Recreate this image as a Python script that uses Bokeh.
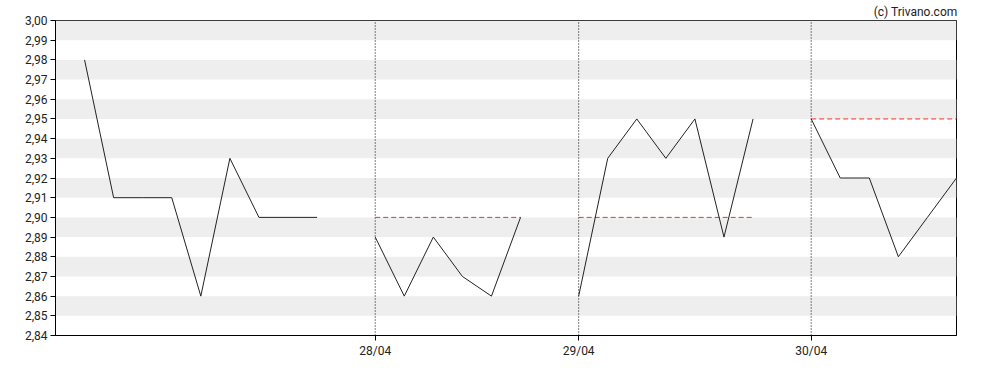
from bokeh.plotting import figure
from bokeh.models import Range1d, Title, FixedTicker
from bokeh.embed import file_html
from bokeh.resources import INLINE

# ---- data ----
session_labels = ["", "28/04", "29/04", "30/04"]
session_values = [
    [2.98, 2.91, 2.91, 2.91, 2.86, 2.93, 2.90, 2.90, 2.90],
    [2.89, 2.86, 2.89, 2.87, 2.86, 2.90],
    [2.86, 2.93, 2.95, 2.93, 2.95, 2.89, 2.95],
    [2.95, 2.92, 2.92, 2.88, 2.90, 2.92],
]
previous_close = [None, 2.90, 2.90, 2.95]
y_ticks = [2.84, 2.85, 2.86, 2.87, 2.88, 2.89, 2.90, 2.91, 2.92, 2.93, 2.94, 2.95,
           2.96, 2.97, 2.98, 2.99, 3.00]
y_tick_labels = ["2,84", "2,85", "2,86", "2,87", "2,88", "2,89", "2,90", "2,91", "2,92",
                 "2,93", "2,94", "2,95", "2,96", "2,97", "2,98", "2,99", "3,00"]
watermark = "(c) Trivano.com"

FONT = "Roboto"

# x positions: index based, one empty slot between sessions
session_x = []
pos = 0
for vals in session_values:
    session_x.append(list(range(pos, pos + len(vals))))
    pos += len(vals) + 1
x_min = -1
x_max = session_x[-1][-1]

p = figure(width=988, height=370, output_backend="svg", toolbar_location=None,
           x_range=Range1d(x_min, x_max), y_range=Range1d(y_ticks[0], y_ticks[-1]),
           min_border_left=55, min_border_right=32, min_border_top=20, min_border_bottom=35)
p.background_fill_color = "white"
p.border_fill_color = "white"
p.outline_line_color = "black"
p.outline_line_width = 1
p.xgrid.grid_line_color = None
p.ygrid.grid_line_color = None

# alternating bands (grey where band's lower tick is odd hundredth)
band_bottom = []
band_top = []
for i in range(len(y_ticks) - 1):
    if i % 2 == 1:
        band_bottom.append(y_ticks[i])
        band_top.append(y_ticks[i + 1])
p.quad(left=x_min, right=x_max, bottom=band_bottom, top=band_top,
       fill_color="#eeeeee", line_color=None)

# session separators and previous-close reference lines
tick_pos = []
tick_lab = {}
for lab, xs, ref in zip(session_labels, session_x, previous_close):
    if lab:
        tick_pos.append(xs[0])
        tick_lab[xs[0]] = lab
        p.segment(x0=[xs[0]], y0=[y_ticks[0]], x1=[xs[0]], y1=[y_ticks[-1]],
                  line_color="black", line_width=1, line_dash="1 2")
    if ref is not None:
        p.line(x=[xs[0], xs[-1]], y=[ref, ref], line_color="#ff2a2a", line_width=1,
               line_dash="5 3")

for xs, vals in zip(session_x, session_values):
    p.line(x=xs, y=vals, line_color="#222222", line_width=1)

# axes
p.yaxis.ticker = FixedTicker(ticks=y_ticks)
p.yaxis.major_label_overrides = {t: l for t, l in zip(y_ticks, y_tick_labels)}
p.xaxis.ticker = FixedTicker(ticks=tick_pos)
p.xaxis.major_label_overrides = tick_lab
for ax in (p.xaxis[0], p.yaxis[0]):
    ax.axis_line_color = "black"
    ax.axis_line_width = 1
    ax.major_tick_line_color = "black"
    ax.major_tick_in = 0
    ax.major_tick_out = 5
    ax.minor_tick_line_color = None
    ax.major_label_text_font = FONT
    ax.major_label_text_font_size = "12px"
    ax.major_label_text_color = "#222222"
    ax.major_label_standoff = 3

p.add_layout(Title(text=watermark, align="right", text_font=FONT, text_font_size="12px",
                   text_font_style="normal", text_color="#222222", standoff=4, offset=-1),
             "above")

open("out.html", "w").write(file_html(p, INLINE))
